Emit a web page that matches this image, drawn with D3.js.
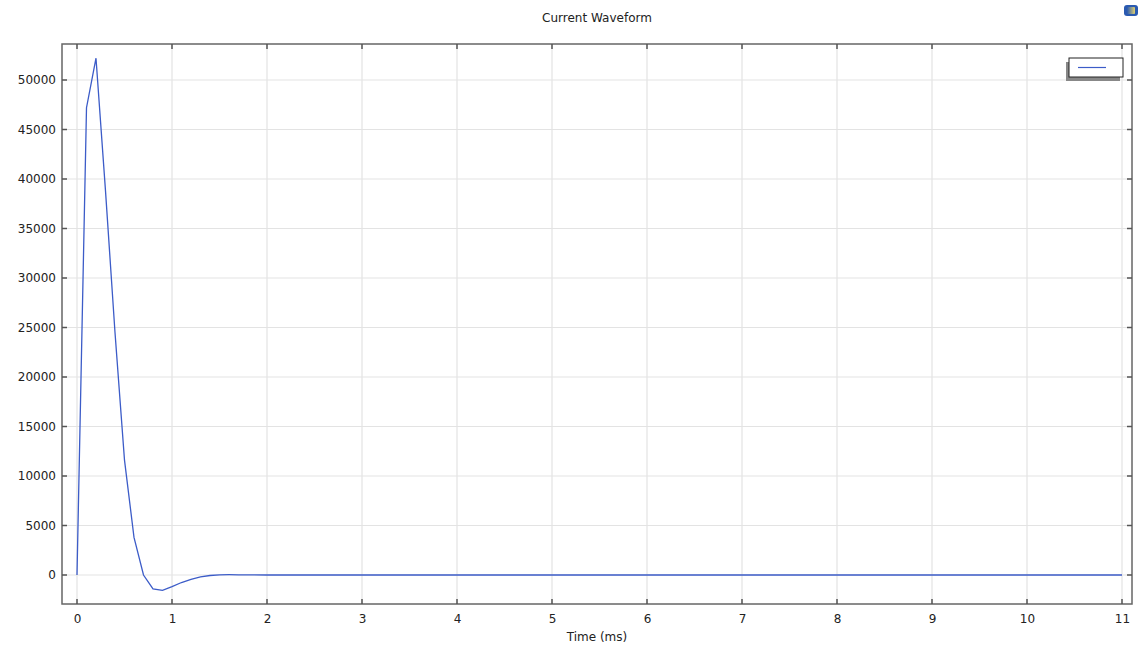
<!DOCTYPE html>
<html><head><meta charset="utf-8">
<script src="https://cdn.jsdelivr.net/npm/d3@7"></script>
<style>body{margin:0;background:#fff;} text{font-family:"DejaVu Sans",sans-serif;}</style>
</head><body><svg id="c" width="1138" height="649"></svg>
<script>
const title = "Current Waveform";
const xLabel = "Time (ms)";
const times = [0,0.1,0.2,0.3,0.4,0.5,0.6,0.7,0.8,0.9,1.0,1.1,1.2,1.3,1.4,1.5,1.6,1.7,1.8,2,3,4,5,6,7,8,9,10,11];
const current = [0,47200,52200,38800,24500,11600,3800,0,-1400,-1550,-1180,-760,-450,-200,-50,20,30,20,10,0,0,0,0,0,0,0,0,0,0];
const xTicks = [0,1,2,3,4,5,6,7,8,9,10,11];
const yTicks = [0,5000,10000,15000,20000,25000,30000,35000,40000,45000,50000];

const svg = d3.select("#c");
const L=62,R=1132,T=44,B=604;
const x = d3.scaleLinear().domain([0,11]).range([77,1122]);
const y = d3.scaleLinear().domain([0,50000]).range([575,80]);

// grid
svg.append("g").selectAll("line").data(xTicks).join("line")
  .attr("x1",d=>x(d)).attr("x2",d=>x(d)).attr("y1",T).attr("y2",B)
  .attr("stroke","#e3e3e3").attr("stroke-width",1.2);
svg.append("g").selectAll("line").data(yTicks).join("line")
  .attr("x1",L).attr("x2",R).attr("y1",d=>y(d)).attr("y2",d=>y(d))
  .attr("stroke","#e3e3e3").attr("stroke-width",1.2);

// line
svg.append("path").datum(times.map((t,i)=>[t,current[i]]))
  .attr("d",d3.line().x(d=>x(d[0])).y(d=>y(d[1])))
  .attr("fill","none").attr("stroke","#3c5cc8").attr("stroke-width",1.3);

// frame
svg.append("rect").attr("x",L).attr("y",T).attr("width",R-L).attr("height",B-T)
  .attr("fill","none").attr("stroke","#666").attr("stroke-width",1.5);

// axes with inward ticks
const bx = d3.axisBottom(x).tickValues(xTicks).tickSize(0).tickPadding(10).tickFormat(d3.format("d"));
const gb = svg.append("g").attr("transform",`translate(0,${B})`).call(bx);
gb.select(".domain").remove();
gb.selectAll("text").attr("font-size",12).attr("fill","#222");
const ly = d3.axisLeft(y).tickValues(yTicks).tickSize(0).tickPadding(6).tickFormat(d3.format("d"));
const gl = svg.append("g").attr("transform",`translate(${L},0)`).call(ly);
gl.select(".domain").remove();
gl.selectAll("text").attr("font-size",12).attr("fill","#222");

const tk = svg.append("g").attr("stroke","#555").attr("stroke-width",1.5);
xTicks.forEach(d=>{
  tk.append("line").attr("x1",x(d)).attr("x2",x(d)).attr("y1",B).attr("y2",B-5);
  tk.append("line").attr("x1",x(d)).attr("x2",x(d)).attr("y1",T).attr("y2",T+5);
});
yTicks.forEach(d=>{
  tk.append("line").attr("x1",L).attr("x2",L+5).attr("y1",y(d)).attr("y2",y(d));
  tk.append("line").attr("x1",R).attr("x2",R-5).attr("y1",y(d)).attr("y2",y(d));
});

// title and label
svg.append("text").attr("x",597).attr("y",22).attr("text-anchor","middle").attr("font-size",12).attr("fill","#222").text(title);
svg.append("text").attr("x",597).attr("y",641).attr("text-anchor","middle").attr("font-size",12).attr("fill","#222").text(xLabel);

// legend
svg.append("rect").attr("x",1066).attr("y",62).attr("width",54).attr("height",19).attr("fill","#888");
svg.append("rect").attr("x",1069).attr("y",58).attr("width",54).attr("height",19).attr("fill","#fff").attr("stroke","#222").attr("stroke-width",1);
svg.append("line").attr("x1",1078).attr("x2",1106).attr("y1",67.5).attr("y2",67.5).attr("stroke","#3c5cc8").attr("stroke-width",1.2);

// corner icon
const defs = svg.append("defs");
const gr = defs.append("linearGradient").attr("id","ig").attr("x1","0").attr("x2","1");
gr.append("stop").attr("offset","0").attr("stop-color","#2a5ab0");
gr.append("stop").attr("offset","1").attr("stop-color","#e0d070");
svg.append("rect").attr("x",1124).attr("y",5).attr("width",14).attr("height",11).attr("rx",3).attr("fill","#2a5ab0");
svg.append("rect").attr("x",1127).attr("y",7).attr("width",8).attr("height",7).attr("rx",1).attr("fill","url(#ig)");
</script></body></html>
